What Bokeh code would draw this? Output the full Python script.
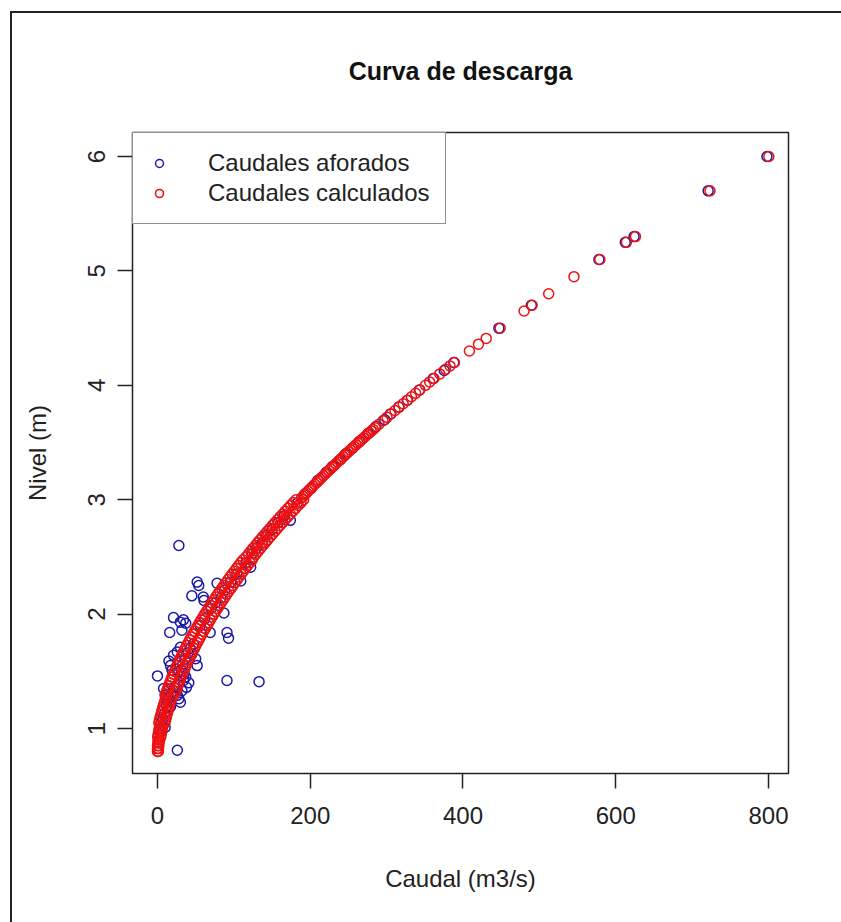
from bokeh.plotting import figure
from bokeh.models import FixedTicker, Legend, LegendItem, Range1d
from bokeh.embed import file_html
from bokeh.resources import INLINE

# Observed (gauged) discharges and their levels
afor_caudal = [
    798.0, 721.0, 624.0, 612.5, 578.0, 489.5, 447.0, 388.0,
    375.5, 361.0, 343.0, 327.5, 316.0, 305.0, 297.5, 286.0, 276.0, 264.5,
    255.5, 246.0, 239.5, 229.0, 221.0, 210.0, 201.5, 193.0, 183.0, 174.0,
    166.0, 158.0, 150.0, 143.0, 137.0, 130.0, 124.0, 122.0, 109.0, 116.0,
    104.0, 96.0, 88.0, 87.0, 83.0, 76.0, 70.0, 62.0, 56.0,
    52.0, 54.0, 45.0, 61.0, 28.0, 78.0, 60.0, 21.0, 34.0, 30.0, 37.0,
    32.0, 16.0, 69.0, 91.0, 93.0, 30.0, 26.0, 21.0, 15.0, 17.0, 19.0,
    0.0, 52.0, 45.0, 50.0, 34.0, 41.0, 37.0, 91.0, 133.0, 8.0, 10.0,
    13.0, 26.0, 30.0, 21.0, 10.0, 26.0, 17.0,
    24.0, 28.0, 33.0, 36.0, 40.0, 43.0, 47.0, 27.0, 22.0, 18.0, 15.0,
    12.0, 9.0, 7.0, 5.0, 3.0, 12.0, 35.0, 30.0, 38.0, 32.0, 28.0,
]
afor_nivel = [
    6.00, 5.70, 5.30, 5.25, 5.10, 4.70, 4.50, 4.20,
    4.13, 4.06, 3.96, 3.87, 3.81, 3.75, 3.70, 3.64, 3.58, 3.51,
    3.45, 3.40, 3.35, 3.29, 3.24, 3.17, 3.10, 3.05, 2.97, 2.82,
    2.86, 2.80, 2.74, 2.69, 2.62, 2.58, 2.53, 2.41, 2.29, 2.45,
    2.35, 2.28, 2.21, 2.01, 2.14, 2.10, 2.05, 1.96, 1.90,
    2.28, 2.25, 2.16, 2.12, 2.60, 2.27, 2.15, 1.97, 1.95, 1.93, 1.92,
    1.86, 1.84, 1.84, 1.84, 1.79, 1.71, 1.67, 1.64, 1.59, 1.55, 1.51,
    1.46, 1.55, 1.65, 1.61, 1.42, 1.40, 1.45, 1.42, 1.41, 1.35, 1.29,
    1.24, 1.29, 1.23, 1.33, 1.01, 0.81, 1.19,
    1.52, 1.50, 1.56, 1.60, 1.66, 1.70, 1.74, 1.38, 1.36, 1.30, 1.27,
    1.20, 1.13, 1.08, 1.05, 0.98, 1.30, 1.48, 1.46, 1.36, 1.33, 1.26,
]

# Calculated discharges, low range: each level appears twice
# (left and right edge of the calculated band)
calc_nivel_bajo = [
    0.800, 0.825, 0.850, 0.875, 0.900, 0.925, 0.950, 0.975, 1.000, 1.025,
    1.050, 1.075, 1.100, 1.125, 1.150, 1.175, 1.200, 1.225, 1.250, 1.275,
    1.300, 1.325, 1.350, 1.375, 1.400, 1.425, 1.450, 1.475, 1.500, 1.525,
    1.550, 1.575, 1.600, 1.625, 1.650, 1.675, 1.700, 1.725, 1.750, 1.775,
    1.800, 1.825, 1.850, 1.875, 1.900, 1.925, 1.950, 1.975, 2.000, 2.025,
    2.050, 2.075, 2.100, 2.125, 2.150, 2.175, 2.200, 2.225, 2.250, 2.275,
    2.300, 2.325, 2.350, 2.375, 2.400, 2.425, 2.450, 2.475, 2.500, 2.525,
    2.550, 2.575, 2.600, 2.625, 2.650, 2.675, 2.700, 2.725, 2.750, 2.775,
    2.800, 2.825, 2.850, 2.875, 2.900, 2.925, 2.950, 2.975, 3.000,
]
calc_caudal_izq = [
    0.0, 0.0, 0.1, 0.5, 1.0, 0.3, 0.9, 1.6, 2.3, 3.0,
    1.8, 2.7, 3.6, 4.6, 5.6, 6.6, 7.7, 8.9, 10.0, 11.3,
    10.5, 11.9, 13.2, 14.6, 16.0, 17.5, 19.0, 20.6, 22.2, 23.8,
    25.5, 27.2, 28.9, 30.7, 32.6, 34.4, 36.3, 38.2, 40.2, 42.2,
    44.2, 46.3, 48.4, 50.6, 52.8, 55.0, 57.2, 59.5, 61.8, 64.2,
    66.6, 69.0, 71.4, 73.9, 76.4, 79.0, 81.5, 84.2, 86.8, 89.5,
    92.2, 94.9, 97.7, 100.5, 103.3, 106.2, 109.1, 112.0, 116.0, 119.0,
    122.0, 125.0, 128.1, 131.2, 134.3, 137.5, 140.7, 144.0, 147.2, 150.5,
    153.8, 157.1, 160.5, 163.9, 167.4, 170.8, 174.3, 177.8, 181.4,
]
calc_caudal_der = [
    1.1, 1.3, 1.7, 2.1, 2.6, 4.3, 4.9, 5.6, 6.3, 7.0,
    9.8, 10.7, 11.6, 12.6, 13.6, 14.6, 15.7, 16.9, 18.0, 19.3,
    22.5, 23.9, 25.2, 26.6, 28.0, 29.5, 31.0, 32.6, 34.2, 35.8,
    37.5, 39.2, 40.9, 42.7, 44.6, 46.4, 48.3, 50.2, 52.2, 54.2,
    56.2, 58.3, 60.4, 62.6, 64.8, 67.0, 69.2, 71.5, 73.8, 76.2,
    78.6, 81.0, 83.4, 85.9, 88.4, 91.0, 93.5, 96.2, 98.8, 101.5,
    104.2, 106.9, 109.7, 112.5, 115.3, 118.2, 121.1, 124.0, 126.0, 129.0,
    132.0, 135.0, 138.1, 141.2, 144.3, 147.5, 150.7, 154.0, 157.2, 160.5,
    163.8, 167.1, 170.5, 173.9, 177.4, 180.8, 184.3, 187.8, 191.4,
]

# Calculated discharges, middle and high range
calc_nivel_alto = [
    3.015, 3.03, 3.045, 3.06, 3.075, 3.09, 3.105, 3.12, 3.135, 3.15,
    3.165, 3.18, 3.195, 3.21, 3.225, 3.24, 3.255, 3.27, 3.285, 3.30,
    3.315, 3.33, 3.345, 3.36, 3.375, 3.39, 3.405, 3.42, 3.435, 3.45,
    3.465, 3.48, 3.495, 3.51, 3.525, 3.54, 3.555, 3.57, 3.585, 3.60,
    3.615, 3.63, 3.66, 3.69, 3.72, 3.75, 3.78, 3.81, 3.84, 3.87,
    3.90, 3.93, 3.96, 4.00, 4.03, 4.06, 4.10, 4.14, 4.17, 4.20,
    4.30, 4.36, 4.41, 4.50, 4.65, 4.70, 4.80, 4.95, 5.10, 5.25,
    5.30, 5.70, 6.00,
]
calc_caudal_alto = [
    188.5, 190.7, 192.8, 195.0, 197.2, 199.4, 201.6, 203.8, 206.0, 208.3,
    210.5, 212.8, 215.0, 217.3, 219.6, 221.9, 224.2, 226.5, 228.8, 231.2,
    233.5, 235.9, 238.2, 240.6, 243.0, 245.4, 247.8, 250.2, 252.6, 255.0,
    257.4, 259.9, 262.4, 264.9, 267.3, 269.8, 272.3, 274.8, 277.3, 279.9,
    282.4, 285.0, 290.1, 295.3, 300.5, 305.7, 311.0, 316.3, 321.7, 327.0,
    332.5, 338.0, 343.5, 350.9, 356.4, 362.0, 369.6, 377.2, 383.0, 388.8,
    408.4, 420.3, 430.4, 448.7, 480.0, 490.6, 512.2, 545.3, 579.2, 614.0,
    625.8, 723.4, 800.4,
]

x_ticks = [0, 200, 400, 600, 800]
y_ticks = [1, 2, 3, 4, 5, 6]

FONT = "Liberation Sans"
TXT = "#222222"
AZUL = "#1a1aa8"
ROJO = "#ee1111"

p = figure(
    width=841, height=922,
    output_backend="svg", toolbar_location=None,
    x_range=Range1d(-32.7, 826.2), y_range=Range1d(0.607, 6.21),
    min_border_left=132, min_border_right=53,
    min_border_top=132, min_border_bottom=149,
    title="Curva de descarga",
    x_axis_label="Caudal (m3/s)", y_axis_label="Nivel (m)",
)
p.background_fill_color = "white"
p.border_fill_color = None
# page frame: a line down the left side and across the top
p.styles = {
    "background-color": "white",
    "background-image": "linear-gradient(#222222, #222222), linear-gradient(#222222, #222222)",
    "background-position": "10px 11px, 10px 11px",
    "background-size": "2px 100%, 100% 2px",
    "background-repeat": "no-repeat",
}
p.grid.visible = False
p.outline_line_color = "#222222"
p.outline_line_width = 1.5

p.title.text_font = FONT
p.title.text_font_size = "25px"
p.title.text_font_style = "bold"
p.title.text_color = "#111111"
p.title.align = "center"
p.title.standoff = 95

for ax in (p.xaxis[0], p.yaxis[0]):
    ax.axis_line_color = None
    ax.major_tick_line_color = "#222222"
    ax.major_tick_line_width = 1.5
    ax.major_tick_out = 15
    ax.major_tick_in = 0
    ax.minor_tick_line_color = None
    ax.major_label_text_font = FONT
    ax.major_label_text_font_size = "24px"
    ax.major_label_text_color = TXT
    ax.axis_label_text_font = FONT
    ax.axis_label_text_font_size = "24px"
    ax.axis_label_text_font_style = "normal"
    ax.axis_label_text_color = TXT

p.xaxis[0].ticker = FixedTicker(ticks=x_ticks)
p.yaxis[0].ticker = FixedTicker(ticks=y_ticks)
p.xaxis[0].major_label_standoff = 18
p.xaxis[0].axis_label_standoff = 38
p.yaxis[0].major_label_orientation = "vertical"
p.yaxis[0].major_label_standoff = 12
p.yaxis[0].axis_label_standoff = 35

r_afor = p.scatter(afor_caudal, afor_nivel, marker="circle", size=10,
                   fill_color=None, line_color=AZUL, line_width=1.5)
r_calc = p.scatter(calc_caudal_izq, calc_nivel_bajo, marker="circle", size=10,
                   fill_color=None, line_color=ROJO, line_width=1.6)
p.scatter(calc_caudal_der, calc_nivel_bajo, marker="circle", size=10,
          fill_color=None, line_color=ROJO, line_width=1.6)
p.scatter(calc_caudal_alto, calc_nivel_alto, marker="circle", size=10,
          fill_color=None, line_color=ROJO, line_width=1.5)

legend = Legend(
    items=[LegendItem(label="Caudales aforados", renderers=[r_afor]),
           LegendItem(label="Caudales calculados", renderers=[r_calc])],
    location="top_left", margin=0, padding=16, spacing=2,
    glyph_width=20, glyph_height=24, label_height=24, label_standoff=39,
    label_text_font=FONT, label_text_font_size="24px", label_text_color=TXT,
    border_line_color="#222222", border_line_width=1.5,
    background_fill_color="white", background_fill_alpha=1.0,
)
p.add_layout(legend, "center")

open("out.html", "w").write(file_html(p, INLINE))
